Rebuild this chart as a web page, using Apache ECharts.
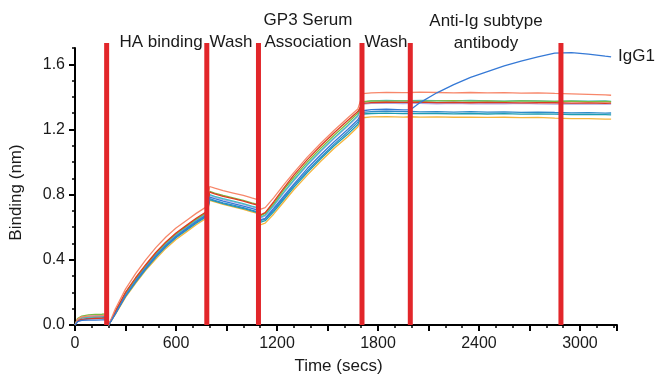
<!DOCTYPE html>
<html>
<head>
<meta charset="utf-8">
<script src="https://cdn.jsdelivr.net/npm/echarts@6/dist/echarts.min.js"></script>
<style>
html,body{margin:0;padding:0;background:#fff;}
#chart{width:655px;height:380px;}
</style>
</head>
<body>
<div id="chart"></div>
<script>
// ---- Data ----
const timeSecs = [0,15,40,80,120,160,185,
  200,240,300,360,420,480,540,600,660,720,780,
  800,830,880,940,1000,1050,1085,
  1100,1130,1180,1240,1300,1380,1460,1540,1620,1680,
  1710,1760,1850,1950,1995,2050,2150,2250,2350,2450,2550,2650,2750,2850,2950,3050,3150,3185];

const salmonVals = [0,0.035,0.05,0.055,0.056,0.058,0.06,
  0.0,0.10,0.22,0.315,0.40,0.475,0.54,0.595,0.64,0.685,0.725,
  0.85,0.84,0.825,0.81,0.795,0.78,0.77,
  0.71,0.72,0.78,0.86,0.935,1.03,1.115,1.195,1.27,1.325,
  1.42,1.425,1.428,1.426,1.427,1.429,1.427,1.425,1.427,1.424,1.426,1.423,1.425,1.421,1.418,1.415,1.412,1.41];
const redVals = [0,0.025,0.035,0.038,0.04,0.042,0.043,
  0.0,0.085,0.20,0.29,0.37,0.445,0.51,0.565,0.61,0.655,0.695,
  0.815,0.805,0.79,0.775,0.76,0.745,0.735,
  0.675,0.69,0.755,0.84,0.92,1.015,1.10,1.18,1.255,1.31,
  1.36,1.365,1.367,1.366,1.367,1.368,1.365,1.366,1.364,1.366,1.365,1.363,1.365,1.364,1.362,1.363,1.361,1.362];
const greenVals = [0,0.04,0.055,0.062,0.065,0.066,0.068,
  0.0,0.082,0.195,0.285,0.365,0.44,0.505,0.56,0.605,0.65,0.69,
  0.82,0.81,0.795,0.78,0.765,0.75,0.74,
  0.67,0.685,0.745,0.83,0.905,1.0,1.085,1.165,1.24,1.30,
  1.37,1.375,1.374,1.376,1.375,1.373,1.375,1.377,1.374,1.376,1.373,1.375,1.374,1.372,1.374,1.371,1.373,1.37];
const lightTealVals = [0,0.03,0.045,0.05,0.052,0.055,0.057,
  0.0,0.08,0.19,0.28,0.36,0.435,0.50,0.555,0.60,0.645,0.685,
  0.80,0.79,0.775,0.76,0.745,0.73,0.72,
  0.66,0.675,0.735,0.815,0.89,0.985,1.07,1.15,1.225,1.285,
  1.368,1.376,1.378,1.376,1.377,1.379,1.377,1.375,1.378,1.376,1.374,1.377,1.375,1.373,1.376,1.374,1.375,1.373];
const lavenderVals = [0,0.03,0.048,0.055,0.057,0.058,0.06,
  0.0,0.078,0.185,0.275,0.355,0.43,0.495,0.55,0.595,0.64,0.68,
  0.795,0.785,0.77,0.755,0.74,0.725,0.715,
  0.655,0.67,0.73,0.81,0.885,0.98,1.065,1.145,1.22,1.28,
  1.355,1.36,1.362,1.359,1.36,1.361,1.358,1.36,1.357,1.359,1.358,1.36,1.357,1.356,1.358,1.355,1.357,1.356];
const igg1Vals = [0,0.02,0.028,0.03,0.03,0.032,0.033,
  0.0,0.07,0.18,0.27,0.35,0.425,0.49,0.545,0.59,0.635,0.675,
  0.785,0.775,0.76,0.745,0.73,0.715,0.705,
  0.645,0.655,0.715,0.79,0.865,0.96,1.045,1.125,1.20,1.26,
  1.315,1.322,1.324,1.32,1.322,1.365,1.425,1.475,1.52,1.555,1.59,1.62,1.645,1.668,1.672,1.662,1.65,1.646];
const blueVals = [0,0.025,0.035,0.04,0.042,0.043,0.045,
  0.0,0.072,0.18,0.268,0.348,0.42,0.485,0.54,0.585,0.63,0.67,
  0.775,0.765,0.75,0.735,0.72,0.705,0.695,
  0.64,0.65,0.705,0.78,0.855,0.945,1.03,1.11,1.185,1.245,
  1.305,1.31,1.312,1.309,1.311,1.308,1.31,1.307,1.309,1.306,1.308,1.305,1.307,1.304,1.302,1.303,1.30,1.301];
const tealVals = [0,0.03,0.045,0.05,0.05,0.052,0.053,
  0.0,0.07,0.175,0.262,0.342,0.415,0.48,0.535,0.58,0.625,0.665,
  0.77,0.76,0.745,0.73,0.715,0.70,0.69,
  0.63,0.64,0.695,0.77,0.845,0.935,1.02,1.10,1.17,1.23,
  1.295,1.298,1.30,1.297,1.299,1.297,1.298,1.296,1.298,1.295,1.297,1.294,1.296,1.294,1.292,1.293,1.291,1.29];
const yellowVals = [0,0.03,0.045,0.05,0.05,0.052,0.054,
  0.0,0.065,0.17,0.255,0.335,0.405,0.47,0.525,0.57,0.615,0.655,
  0.765,0.755,0.74,0.725,0.71,0.695,0.685,
  0.615,0.625,0.68,0.755,0.83,0.92,1.005,1.085,1.155,1.215,
  1.272,1.277,1.279,1.276,1.278,1.276,1.277,1.275,1.276,1.274,1.275,1.273,1.274,1.27,1.267,1.266,1.264,1.263];

const dividerTimes = [188, 783, 1090, 1705, 1992, 2887];
const dividerTop = 1.73;
const xTickLabels = [0, 600, 1200, 1800, 2400, 3000];
const yTickLabels = [0.0, 0.4, 0.8, 1.2, 1.6];
const phaseLabels = ['HA binding', 'Wash', 'GP3 Serum', 'Association', 'Wash', 'Anti-Ig subtype', 'antibody'];
const seriesName = 'IgG1';

// ---- Build chart ----
const FONT = '"Liberation Sans", Arial, sans-serif';
const pair = vals => timeSecs.map((t, i) => [t, vals[i]]);

function dataLine(name, vals, color, z, extra) {
  return Object.assign({
    name: name, type: 'line', data: pair(vals), showSymbol: false, symbol: 'none',
    lineStyle: { color: color, width: 1.3 }, itemStyle: { color: color },
    z: z, silent: true, animation: false
  }, extra || {});
}

const series = [
  dataLine('yellow', yellowVals, '#f5b53c', 2),
  dataLine('teal', tealVals, '#1c9db0', 2),
  dataLine('blue', blueVals, '#2e8bc8', 2),
  dataLine('lavender', lavenderVals, '#b3a6e0', 2),
  dataLine('lightTeal', lightTealVals, '#3fbcc4', 2),
  dataLine('green', greenVals, '#7dbb42', 2),
  dataLine('red', redVals, '#dd3b22', 2),
  dataLine('salmon', salmonVals, '#f7876a', 2),
  dataLine(seriesName, igg1Vals, '#3579d6', 3, {
    endLabel: { show: true, formatter: seriesName, fontFamily: FONT, fontSize: 17, color: '#1a1a1a', distance: 7 }
  })
];
dividerTimes.forEach(t => {
  series.push({
    type: 'line', data: [[t, 0], [t, dividerTop]], symbol: 'none', showSymbol: false,
    clip: false, lineStyle: { color: '#e2262a', width: 5 }, z: 5, silent: true, animation: false
  });
});

const xMax = 3220, yMax = 1.7;
const isMult = (v, s) => Math.abs(v / s - Math.round(v / s)) < 1e-6;

const grid = { left: 74, right: 38, top: 48, bottom: 54 };
const phasePos = [[161, 42.5], [231, 42.5], [308, 20.5], [308, 42.5], [386, 42.5], [486, 21.5], [486, 43.5]];

const option = {
  backgroundColor: '#ffffff',
  animation: false,
  grid: grid,
  xAxis: [{
    type: 'value', min: 0, max: xMax, interval: 100,
    name: 'Time (secs)', nameLocation: 'middle', nameGap: 33,
    nameTextStyle: { fontFamily: FONT, fontSize: 17, color: '#1a1a1a', padding: [0, 15, 0, 0] },
    axisLine: { show: true, onZero: false, lineStyle: { color: '#000', width: 2 } },
    axisTick: { show: true, length: 3, lineStyle: { color: '#000', width: 1.5 } },
    axisLabel: {
      fontFamily: FONT, fontSize: 16, color: '#1a1a1a', margin: 11,
      formatter: v => (xTickLabels.indexOf(v) >= 0 ? String(v) : '')
    },
    splitLine: { show: false }
  }, {
    type: 'value', min: 0, max: xMax, interval: 300, position: 'bottom',
    axisLine: { show: false }, axisLabel: { show: false }, splitLine: { show: false },
    axisTick: { show: true, length: 6, lineStyle: { color: '#000', width: 2 } }
  }],
  yAxis: [{
    type: 'value', min: 0, max: yMax, interval: 0.1,
    name: 'Binding (nm)', nameLocation: 'middle', nameGap: 50, nameRotate: 90,
    nameTextStyle: { fontFamily: FONT, fontSize: 17, color: '#1a1a1a', padding: [0, 12, 0, 0] },
    axisLine: { show: true, onZero: false, lineStyle: { color: '#000', width: 2 } },
    axisTick: { show: true, length: 3, lineStyle: { color: '#000', width: 1.5 } },
    axisLabel: {
      fontFamily: FONT, fontSize: 16, color: '#1a1a1a', margin: 10,
      formatter: v => (isMult(v, 0.4) && v <= 1.6 + 1e-9 ? v.toFixed(1) : '')
    },
    splitLine: { show: false }
  }, {
    type: 'value', min: 0, max: yMax, interval: 0.4, position: 'left',
    axisLine: { show: false }, axisLabel: { show: false }, splitLine: { show: false },
    axisTick: { show: true, length: 6, customValues: yTickLabels, lineStyle: { color: '#000', width: 2 } }
  }],
  graphic: phaseLabels.map((txt, i) => ({
    type: 'text', x: phasePos[i][0], y: phasePos[i][1], silent: true,
    style: { text: txt, fontFamily: FONT, fontSize: 17, fill: '#1a1a1a', align: 'center', verticalAlign: 'middle' }
  })),
  series: series
};

const chart = echarts.init(document.getElementById('chart'), null, { renderer: 'canvas' });
chart.setOption(option);
</script>
</body>
</html>
